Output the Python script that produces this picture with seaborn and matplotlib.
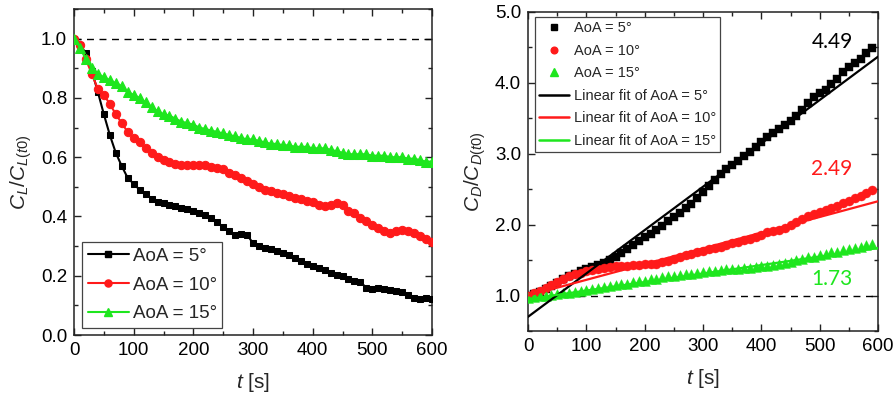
import numpy as np
import pandas as pd
import matplotlib
matplotlib.use("Agg")
import matplotlib.pyplot as plt
from matplotlib.ticker import MultipleLocator, FormatStrFormatter
from matplotlib.lines import Line2D
import seaborn as sns

# ---------------- data ----------------
t_cl = list(range(0, 601, 10))
cl_aoa5 = [1.0, 0.98, 0.95, 0.89, 0.82, 0.745, 0.675, 0.615, 0.57, 0.53,
           0.51, 0.49, 0.475, 0.46, 0.45, 0.445, 0.44, 0.435, 0.43, 0.425,
           0.42, 0.413, 0.405, 0.395, 0.38, 0.365, 0.35, 0.338, 0.34, 0.338,
           0.31, 0.30, 0.295, 0.29, 0.283, 0.278, 0.27, 0.26, 0.25, 0.24,
           0.232, 0.225, 0.218, 0.21, 0.203, 0.198, 0.19, 0.183, 0.178, 0.16,
           0.155, 0.158, 0.155, 0.152, 0.15, 0.145, 0.135, 0.125, 0.12, 0.125,
           0.12]
cl_aoa10 = [1.0, 0.98, 0.93, 0.88, 0.83, 0.81, 0.78, 0.745, 0.715, 0.685,
            0.665, 0.65, 0.63, 0.615, 0.60, 0.59, 0.583, 0.578, 0.575, 0.573,
            0.572, 0.573, 0.572, 0.568, 0.565, 0.56, 0.545, 0.54, 0.53, 0.52,
            0.51, 0.50, 0.49, 0.485, 0.48, 0.475, 0.468, 0.462, 0.458, 0.452,
            0.448, 0.44, 0.435, 0.44, 0.447, 0.44, 0.42, 0.41, 0.395, 0.385,
            0.37, 0.36, 0.35, 0.345, 0.35, 0.353, 0.352, 0.345, 0.335, 0.325,
            0.315]
cl_aoa15 = [1.0, 0.97, 0.93, 0.90, 0.88, 0.87, 0.86, 0.85, 0.84, 0.82,
            0.81, 0.80, 0.785, 0.77, 0.755, 0.745, 0.74, 0.73, 0.72, 0.715,
            0.71, 0.70, 0.695, 0.69, 0.685, 0.68, 0.675, 0.67, 0.665, 0.66,
            0.66, 0.655, 0.65, 0.645, 0.645, 0.64, 0.64, 0.635, 0.635, 0.635,
            0.63, 0.63, 0.63, 0.625, 0.62, 0.615, 0.61, 0.61, 0.61, 0.61,
            0.605, 0.605, 0.605, 0.60, 0.60, 0.60, 0.595, 0.595, 0.59, 0.585,
            0.585]

t_cd = list(range(0, 591, 10))
cd_aoa5 = [1.0, 1.02, 1.05, 1.09, 1.13, 1.18, 1.23, 1.28, 1.31, 1.35,
           1.38, 1.40, 1.43, 1.46, 1.50, 1.55, 1.60, 1.65, 1.71, 1.77,
           1.82, 1.87, 1.92, 1.98, 2.05, 2.11, 2.17, 2.23, 2.29, 2.38,
           2.46, 2.54, 2.63, 2.71, 2.78, 2.84, 2.90, 2.97, 3.03, 3.10,
           3.17, 3.23, 3.29, 3.35, 3.40, 3.46, 3.53, 3.62, 3.72, 3.80,
           3.86, 3.90, 3.98, 4.06, 4.15, 4.22, 4.28, 4.34, 4.42, 4.49]
cd_aoa10 = [1.00, 1.03, 1.07, 1.11, 1.15, 1.19, 1.23, 1.27, 1.30, 1.32,
            1.34, 1.36, 1.37, 1.39, 1.40, 1.41, 1.41, 1.42, 1.43, 1.43,
            1.44, 1.44, 1.45, 1.47, 1.49, 1.52, 1.55, 1.57, 1.59, 1.61,
            1.63, 1.65, 1.67, 1.69, 1.71, 1.74, 1.76, 1.78, 1.80, 1.83,
            1.86, 1.89, 1.91, 1.93, 1.96, 2.00, 2.04, 2.08, 2.12, 2.15,
            2.18, 2.21, 2.24, 2.27, 2.31, 2.34, 2.38, 2.41, 2.45, 2.49]
cd_aoa15 = [0.97, 0.98, 0.99, 1.00, 1.01, 1.02, 1.03, 1.04, 1.05, 1.07,
            1.08, 1.09, 1.11, 1.12, 1.14, 1.15, 1.16, 1.17, 1.19, 1.20,
            1.21, 1.23, 1.24, 1.26, 1.27, 1.28, 1.29, 1.30, 1.31, 1.32,
            1.33, 1.34, 1.35, 1.36, 1.37, 1.38, 1.38, 1.39, 1.39, 1.40,
            1.41, 1.42, 1.43, 1.44, 1.46, 1.48, 1.50, 1.52, 1.54, 1.55,
            1.57, 1.59, 1.61, 1.62, 1.64, 1.65, 1.67, 1.69, 1.71, 1.73]

# linear fit lines: value at t = 0 and t = 600
fit_t = [0, 600]
fit_aoa5 = [0.70, 4.37]
fit_aoa10 = [1.00, 2.33]
fit_aoa15 = [0.95, 1.67]

aoa_labels = ["AoA = 5\u00b0", "AoA = 10\u00b0", "AoA = 15\u00b0"]
end_labels = ["4.49", "2.49", "1.73"]

# ---------------- style ----------------
sns.set_theme(style="white")
plt.rcParams["font.family"] = ["Liberation Sans", "DejaVu Sans"]
plt.rcParams["mathtext.fontset"] = "custom"
plt.rcParams["mathtext.rm"] = "Liberation Sans"
plt.rcParams["mathtext.it"] = "Liberation Sans:italic"
plt.rcParams["mathtext.bf"] = "Liberation Sans:bold"

colors = ["#000000", "#ff1a1a", "#1ee61e"]
markers = ["s", "o", "^"]
msizes = [5.0, 6.0, 6.6]

fig = plt.figure(figsize=(8.94, 3.99), dpi=100)
axL = fig.add_axes([74 / 894, 1 - 335 / 399, 358 / 894, 326 / 399])
axR = fig.add_axes([528 / 894, 1 - 331 / 399, 350 / 894, 319 / 399])

# ---------------- left panel ----------------
df_cl = pd.DataFrame({"t": t_cl, aoa_labels[0]: cl_aoa5,
                      aoa_labels[1]: cl_aoa10, aoa_labels[2]: cl_aoa15})
axL.axhline(1.0, color="black", lw=1.0, ls=(0, (5, 4)), zorder=1)
for lab, c, m, ms in zip(aoa_labels, colors, markers, msizes):
    sns.lineplot(data=df_cl, x="t", y=lab, ax=axL, color=c, marker=m,
                 markersize=ms, markeredgecolor=c, lw=1.5, label=lab,
                 zorder=3)

axL.set_xlim(0, 600)
axL.set_ylim(0, 1.1)
axL.xaxis.set_major_locator(MultipleLocator(100))
axL.xaxis.set_minor_locator(MultipleLocator(50))
axL.yaxis.set_major_locator(MultipleLocator(0.2))
axL.yaxis.set_minor_locator(MultipleLocator(0.1))
axL.yaxis.set_major_formatter(FormatStrFormatter("%.1f"))
axL.set_xlabel(r"$t$ [s]", fontsize=15, labelpad=9)
axL.set_ylabel(r"$C_L/C_{L(t0)}$", fontsize=15, labelpad=5)
handlesL = [Line2D([], [], color=c, marker=m, markersize=ms * 0.85, lw=1.5)
            for c, m, ms in zip(colors, markers, msizes)]
legL = axL.legend(handlesL, aoa_labels, loc="lower left",
                  bbox_to_anchor=(8 / 358, 7 / 326), borderaxespad=0,
                  fontsize=13.5, frameon=True, fancybox=False,
                  edgecolor="#444444", framealpha=1, handlelength=2.2,
                  handletextpad=0.2, labelspacing=0.62, borderpad=0.3)
legL.get_frame().set_linewidth(0.9)

# ---------------- right panel ----------------
df_cd = pd.DataFrame({"t": t_cd, aoa_labels[0]: cd_aoa5,
                      aoa_labels[1]: cd_aoa10, aoa_labels[2]: cd_aoa15})
df_fit = pd.DataFrame({"t": fit_t, aoa_labels[0]: fit_aoa5,
                       aoa_labels[1]: fit_aoa10, aoa_labels[2]: fit_aoa15})
axR.axhline(1.0, color="black", lw=1.0, ls=(0, (5, 4)), zorder=1)
for lab, c, m, ms in zip(aoa_labels, colors, markers, msizes):
    sns.scatterplot(data=df_cd, x="t", y=lab, ax=axR, color=c, marker=m,
                    s=(ms + 0.5) ** 2, edgecolor=c, linewidth=0.3, zorder=3)
for lab, c in zip(aoa_labels, colors):
    sns.lineplot(data=df_fit, x="t", y=lab, ax=axR, color=c, lw=1.6,
                 zorder=4)

for txt, c, (tx, ty) in zip(end_labels, colors,
                            [(521, 4.58), (521, 2.78), (521, 1.24)]):
    axR.text(tx, ty, txt, color=c, fontsize=15, family=["Lato", "DejaVu Sans"],
             ha="center", va="center")

axR.set_xlim(0, 600)
axR.set_ylim(0.5, 5.0)
axR.xaxis.set_major_locator(MultipleLocator(100))
axR.xaxis.set_minor_locator(MultipleLocator(50))
axR.yaxis.set_major_locator(MultipleLocator(1.0))
axR.yaxis.set_minor_locator(MultipleLocator(0.5))
axR.yaxis.set_major_formatter(FormatStrFormatter("%.1f"))
axR.set_xlabel(r"$t$ [s]", fontsize=15, labelpad=9)
axR.set_ylabel(r"$C_D/C_{D(t0)}$", fontsize=15, labelpad=5)

handlesR = [Line2D([], [], color=c, marker=m, markersize=ms * 0.8, lw=0)
            for c, m, ms in zip(colors, markers, msizes)]
handlesR += [Line2D([], [], color=c, lw=1.8) for c in colors]
labelsR = aoa_labels + ["Linear fit of " + l for l in aoa_labels]
legR = axR.legend(handlesR, labelsR, loc="upper left",
                  bbox_to_anchor=(7 / 350, 1 - 5 / 319), borderaxespad=0,
                  fontsize=10.5, frameon=True, fancybox=False,
                  edgecolor="#444444", framealpha=1, handlelength=2.0,
                  handletextpad=0.35, labelspacing=0.58, borderpad=0.3)
legR.get_frame().set_linewidth(0.9)

for ax in (axL, axR):
    for sp in ax.spines.values():
        sp.set_visible(True)
        sp.set_color("#222222")
        sp.set_linewidth(1.1)
    ax.tick_params(which="both", direction="in", top=True, right=True,
                   bottom=True, left=True, colors="#222222", labelcolor="black")
    ax.tick_params(which="major", length=5, width=1.0, labelsize=13.5, pad=5)
    ax.tick_params(which="minor", length=3, width=1.0)

fig.savefig("out.png", dpi=100, facecolor="white")
